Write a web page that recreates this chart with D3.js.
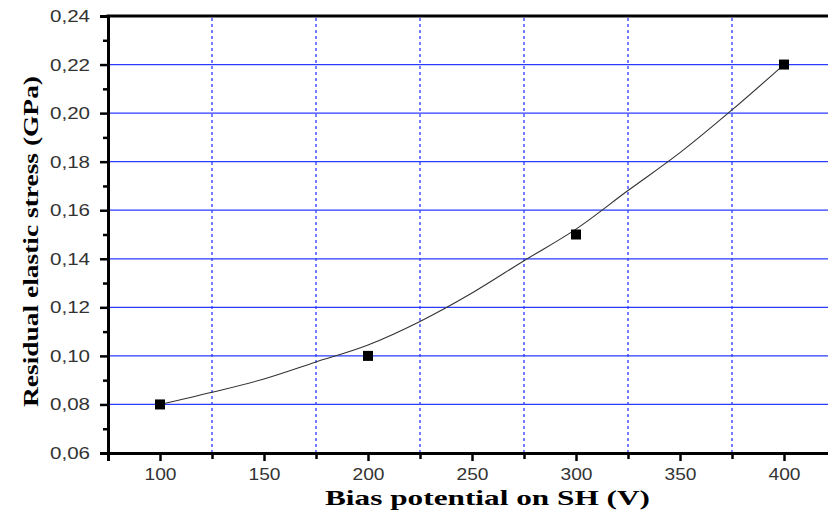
<!DOCTYPE html>
<html><head><meta charset="utf-8">
<script src="https://cdn.jsdelivr.net/npm/d3@7"></script>
<style>body{margin:0;background:#fff}svg{display:block}</style>
</head><body>
<svg id="c" width="828" height="513"></svg>
<script>
// Data
const pointX = [100, 200, 300, 400];
const pointY = [0.08, 0.10, 0.15, 0.22];
// fitted curve
const fitX = [100, 125, 150, 175, 200, 225, 250, 275, 300, 325, 350, 375, 400];
const fitY = [0.080, 0.085, 0.0905, 0.0975, 0.1045, 0.1142, 0.1259, 0.1392, 0.1522, 0.1681, 0.1837, 0.2013, 0.220];
const xTicks = [100, 150, 200, 250, 300, 350, 400];
const xMinor = [125, 175, 225, 275, 325, 375];
const yTicks = [0.06, 0.08, 0.10, 0.12, 0.14, 0.16, 0.18, 0.20, 0.22, 0.24];
const yMinor = [0.07, 0.09, 0.11, 0.13, 0.15, 0.17, 0.19, 0.21, 0.23];
const yGrid = [0.08, 0.10, 0.12, 0.14, 0.16, 0.18, 0.20, 0.22];

const svg = d3.select("#c");
const x = d3.scaleLinear().domain([75, 425]).range([108, 836]);
const y = d3.scaleLinear().domain([0.06, 0.24]).range([453, 16]);
const fmt = v => d3.format(".2f")(v).replace(".", ",");

// grid
svg.append("g").selectAll("line").data(yGrid).join("line")
  .attr("x1", x(75)).attr("x2", x(425))
  .attr("y1", d => y(d)).attr("y2", d => y(d))
  .attr("stroke", "#2a3cff").attr("stroke-width", 1.3);
svg.append("g").selectAll("line").data(xMinor).join("line")
  .attr("x1", d => x(d)).attr("x2", d => x(d))
  .attr("y1", y(0.06)).attr("y2", y(0.24))
  .attr("stroke", "#2a3cff").attr("stroke-width", 1.3)
  .attr("stroke-dasharray", "3,3");

// fit curve
const line = d3.line().x(d => x(d[0])).y(d => y(d[1])).curve(d3.curveMonotoneX);
svg.append("path").datum(fitX.map((v, i) => [v, fitY[i]]))
  .attr("d", line).attr("fill", "none").attr("stroke", "#333").attr("stroke-width", 1.1);

// points
svg.append("g").selectAll("rect").data(pointX.map((v, i) => [v, pointY[i]])).join("rect")
  .attr("x", d => x(d[0]) - 5).attr("y", d => y(d[1]) - 5)
  .attr("width", 10).attr("height", 10).attr("fill", "#000");

// axes
svg.append("g").attr("class", "xa").attr("transform", `translate(0,${y(0.06)})`)
  .call(d3.axisBottom(x).tickValues(xTicks).tickSize(8).tickPadding(7).tickFormat(d3.format("d")));
svg.append("g").attr("transform", `translate(0,${y(0.06)})`)
  .call(d3.axisBottom(x).tickValues(xMinor).tickSize(6).tickFormat(""))
  .select(".domain").remove();
svg.append("g").attr("class", "ya").attr("transform", `translate(${x(75)},0)`)
  .call(d3.axisLeft(y).tickValues(yTicks).tickSize(8).tickPadding(10).tickFormat(fmt));
svg.append("g").attr("transform", `translate(${x(75)},0)`)
  .call(d3.axisLeft(y).tickValues(yMinor).tickSize(5).tickFormat(""))
  .select(".domain").remove();
svg.selectAll(".domain").attr("stroke", "#000").attr("stroke-width", 3);
svg.selectAll(".tick line").attr("stroke", "#000").attr("stroke-width", 2.5);
svg.selectAll(".tick text").attr("font-family", "Liberation Sans, Arial, sans-serif")
  .attr("font-size", 17).attr("fill", "#333").attr("lengthAdjust", "spacingAndGlyphs");
svg.selectAll(".xa .tick text").attr("textLength", 32);
svg.selectAll(".ya .tick text").attr("textLength", 40);
// top axis line
svg.append("line").attr("x1", x(75) - 1.5).attr("x2", 828).attr("y1", y(0.24)).attr("y2", y(0.24))
  .attr("stroke", "#000").attr("stroke-width", 3);

// titles
svg.append("text").attr("x", 487.5).attr("y", 505).attr("text-anchor", "middle")
  .attr("font-family", "Liberation Serif, Times New Roman, serif").attr("font-weight", "bold")
  .attr("font-size", 22).attr("textLength", 325).attr("lengthAdjust", "spacingAndGlyphs")
  .text("Bias potential on SH (V)");
svg.append("text").attr("transform", "translate(38,241.5) rotate(-90)").attr("text-anchor", "middle")
  .attr("font-family", "Liberation Serif, Times New Roman, serif").attr("font-weight", "bold")
  .attr("font-size", 22).attr("textLength", 331).attr("lengthAdjust", "spacingAndGlyphs")
  .text("Residual elastic stress (GPa)");
</script>
</body></html>
